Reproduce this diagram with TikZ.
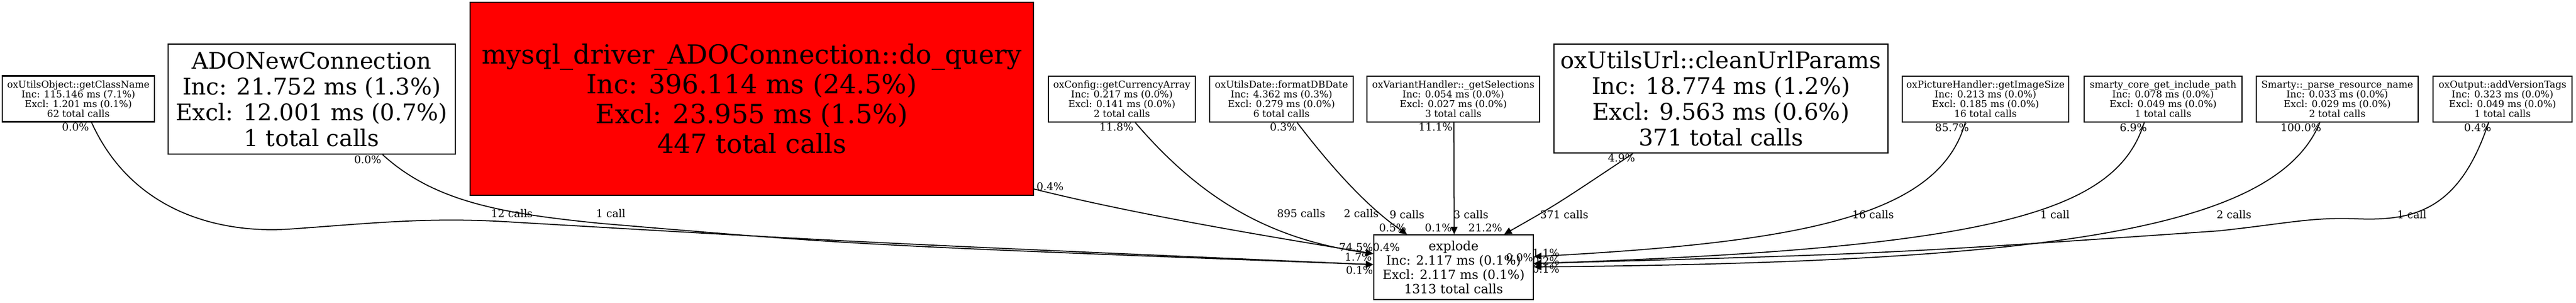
\documentclass[tikz,border=0pt]{standalone}
\usepackage{fontspec}
\setmainfont{DejaVu Serif}
\usepackage{tikz}
\usetikzlibrary{arrows.meta}

\newcommand\fnsmall{\fontsize{4.75}{4.84}\selectfont}
\newcommand\fnlabel{\fontsize{5.3}{5.4}\selectfont}
\newcommand\fnmid{\fontsize{6.3}{7.1}\selectfont}
\newcommand\fnbig{\fontsize{11.4}{12.8}\selectfont}
\newcommand\fnhuge{\fontsize{13.1}{14.8}\selectfont}

\begin{document}
\begin{tikzpicture}[
  >={Triangle[length=0.13cm,width=0.12cm]},
  fn/.style={draw, line width=0.6pt, inner sep=0pt, align=center},
  small/.style={fn, font=\fnsmall, minimum height=0.80cm},
  big/.style={fn, font=\fnbig, minimum height=1.90cm},
  lbl/.style={font=\fnlabel, inner sep=0pt},
  call/.style={->, line width=0.5pt}
]
\useasboundingbox (0,0) rectangle (45.04,5.28);

% callers, top row
\node[small, minimum width=2.66cm] (gcn) at (1.37,3.555) {oxUtilsObject::getClassName\\Inc: 115.146 ms (7.1\%)\\Excl: 1.201 ms (0.1\%)\\62 total calls};
\node[big, minimum width=5.02cm, minimum height=1.92cm] (ado) at (5.45,3.55) {ADONewConnection\\Inc: 21.752 ms (1.3\%)\\Excl: 12.001 ms (0.7\%)\\1 total calls};
\node[fn, fill=red, font=\fnhuge, minimum width=9.85cm, minimum height=3.37cm] (query) at (13.145,3.555) {mysql\_driver\_ADOConnection::do\_query\\Inc: 396.114 ms (24.5\%)\\Excl: 23.955 ms (1.5\%)\\447 total calls};
\node[small, minimum width=2.57cm] (cur) at (19.615,3.55) {oxConfig::getCurrencyArray\\Inc: 0.217 ms (0.0\%)\\Excl: 0.141 ms (0.0\%)\\2 total calls};
\node[small, minimum width=2.51cm] (date) at (22.405,3.55) {oxUtilsDate::formatDBDate\\Inc: 4.362 ms (0.3\%)\\Excl: 0.279 ms (0.0\%)\\6 total calls};
\node[small, minimum width=3.02cm] (sel) at (25.41,3.55) {oxVariantHandler::\_getSelections\\Inc: 0.054 ms (0.0\%)\\Excl: 0.027 ms (0.0\%)\\3 total calls};
\node[big, minimum width=5.84cm, minimum height=1.90cm] (url) at (30.09,3.56) {oxUtilsUrl::cleanUrlParams\\Inc: 18.774 ms (1.2\%)\\Excl: 9.563 ms (0.6\%)\\371 total calls};
\node[small, minimum width=2.91cm] (img) at (34.715,3.55) {oxPictureHandler::getImageSize\\Inc: 0.213 ms (0.0\%)\\Excl: 0.185 ms (0.0\%)\\16 total calls};
\node[small, minimum width=2.76cm] (incl) at (37.82,3.55) {smarty\_core\_get\_include\_path\\Inc: 0.078 ms (0.0\%)\\Excl: 0.049 ms (0.0\%)\\1 total calls};
\node[small, minimum width=2.83cm] (res) at (40.865,3.55) {Smarty::\_parse\_resource\_name\\Inc: 0.033 ms (0.0\%)\\Excl: 0.029 ms (0.0\%)\\2 total calls};
\node[small, minimum width=2.43cm] (ver) at (43.755,3.55) {oxOutput::addVersionTags\\Inc: 0.323 ms (0.0\%)\\Excl: 0.049 ms (0.0\%)\\1 total calls};

% callee
\node[fn, font=\fnmid, minimum width=2.79cm, minimum height=1.13cm] (expl) at (25.415,0.615) {explode\\Inc: 2.117 ms (0.1\%)\\Excl: 2.117 ms (0.1\%)\\1313 total calls};

% calls coming in from the left
\draw[call] ([xshift=0.23cm]gcn.south) .. controls (2.3,1.6) and (3.8,1.2) .. (5.05,1.28)
  .. controls (6.5,1.38) and (7.5,1.5) .. (9.0,1.40) .. controls (15,1.05) .. ([yshift=0.045cm]expl.west);
\draw[call] ([xshift=1.24cm]ado.south) .. controls (7.6,1.75) and (8.8,1.55) .. (10.5,1.38)
  .. controls (15,1.0) .. ([yshift=0.045cm]expl.west);
\draw[call] ([yshift=0.12cm]query.south east) .. controls (20,1.5) and (22.5,1.1) .. ([yshift=0.235cm]expl.west);
\draw[call] ([xshift=0.235cm]cur.south) .. controls (21,1.8) and (22.2,1.1) .. ([yshift=0.235cm]expl.west);

% calls coming in from above
\draw[call] ([xshift=0.275cm]date.south) .. controls (23.4,2.2) and (24.0,1.6) .. ([xshift=-0.815cm]expl.north);
\draw[call] ([xshift=0.01cm]sel.south) -- ([xshift=0.01cm]expl.north);
\draw[call] ([xshift=-1.54cm]url.south) .. controls (27.2,1.7) .. ([xshift=0.885cm]expl.north);

% calls coming in from the right
\draw[call] ([xshift=-0.355cm]img.south) .. controls (33.9,1.5) and (31.5,1.05) .. ([yshift=0.185cm]expl.east);
\draw[call] ([xshift=-0.33cm]incl.south) .. controls (37.0,1.6) and (35,0.95) .. ([yshift=0.065cm]expl.east);
\draw[call] ([xshift=-0.305cm]res.south) .. controls (39.8,1.3) and (36,0.7) .. ([yshift=0.005cm]expl.east);
\draw[call] ([xshift=-0.245cm]ver.south) .. controls (43.0,1.6) and (42.2,1.42) .. (41.2,1.46)
  .. controls (40.4,1.49) and (40.0,1.38) .. (38.8,1.25) .. controls (33,0.85) .. ([yshift=0.065cm]expl.east);

% tail labels
\node[lbl] (t1) at (1.32,3.06) {0.0\%};
\node[lbl] (t2) at (6.43,2.49) {0.0\%};
\node[lbl] (t3) at (18.36,2.02) {0.4\%};
\node[lbl] (t4) at (19.52,3.06) {11.8\%};
\node[lbl] (t5) at (22.44,3.06) {0.3\%};
\node[lbl] (t6) at (25.10,3.06) {11.1\%};
\node[lbl] (t7) at (28.35,2.52) {4.9\%};
\node[lbl] (t8) at (34.13,3.05) {85.7\%};
\node[lbl] (t9) at (37.30,3.05) {6.9\%};
\node[lbl] (t10) at (40.23,3.05) {100.0\%};
\node[lbl] (t11) at (43.32,3.05) {0.4\%};

% call counts
\node[lbl] (c1) at (8.95,1.55) {12 calls};
\node[lbl] (c2) at (10.68,1.55) {1 call};
\node[lbl] (c3) at (22.75,1.55) {895 calls};
\node[lbl] (c4) at (23.80,1.55) {2 calls};
\node[lbl] (c5) at (24.60,1.53) {9 calls};
\node[lbl] (c6) at (25.72,1.53) {3 calls};
\node[lbl] (c7) at (27.35,1.53) {371 calls};
\node[lbl] (c8) at (32.75,1.53) {16 calls};
\node[lbl] (c9) at (35.93,1.53) {1 call};
\node[lbl] (c10) at (39.06,1.53) {2 calls};
\node[lbl] (c11) at (42.17,1.53) {1 call};

% head labels
\node[lbl] (h1) at (23.71,0.96) {74.5\%};
\node[lbl] (h2) at (24.24,0.96) {0.4\%};
\node[lbl] (h3) at (23.75,0.79) {1.7\%};
\node[lbl] (h4) at (23.77,0.56) {0.1\%};
\node[lbl] (h5) at (24.35,1.30) {0.5\%};
\node[lbl] (h6) at (25.15,1.30) {0.1\%};
\node[lbl] (h7) at (25.97,1.30) {21.2\%};
\node[lbl] (h8) at (27.03,0.86) {1.1\%};
\node[lbl] (h9) at (26.57,0.78) {0.0\%};
\node[lbl] (h10) at (27.03,0.72) {0.2\%};
\node[lbl] (h11) at (27.03,0.58) {0.1\%};
\end{tikzpicture}
\end{document}
